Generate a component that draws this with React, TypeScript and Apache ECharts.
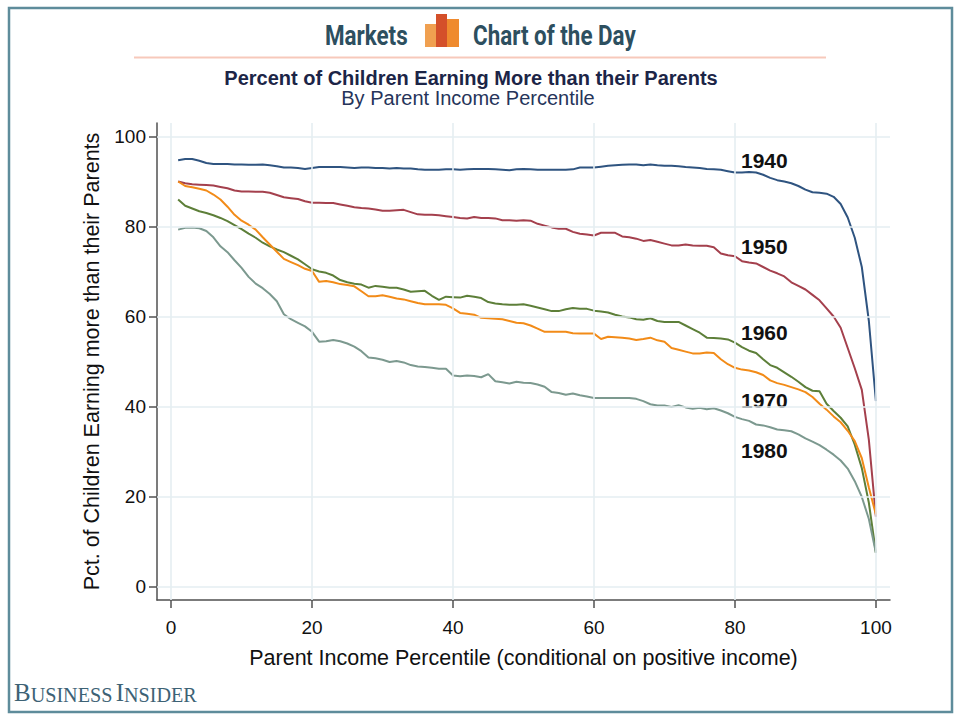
import React, { useEffect, useRef } from "react";
import * as echarts from "echarts";

const percentiles: number[] = Array.from({ length: 100 }, (_, i) => i + 1);

const cohort1940: number[] = [
  94.7, 95.0, 95.0, 94.6, 94.1, 93.9, 93.9, 93.9, 93.8, 93.8,
  93.7, 93.7, 93.8, 93.6, 93.4, 93.1, 93.1, 93.0, 92.8, 93.0,
  93.2, 93.2, 93.2, 93.2, 93.1, 93.0, 93.1, 93.1, 93.0, 93.0,
  92.9, 93.0, 92.9, 92.9, 92.7, 92.6, 92.6, 92.6, 92.7, 92.7,
  92.6, 92.7, 92.8, 92.8, 92.8, 92.7, 92.6, 92.5, 92.7, 92.8,
  92.7, 92.6, 92.6, 92.6, 92.6, 92.6, 92.7, 93.1, 93.1, 93.1,
  93.3, 93.5, 93.6, 93.7, 93.8, 93.8, 93.6, 93.8, 93.6, 93.5,
  93.5, 93.4, 93.2, 93.1, 93.0, 92.8, 92.7, 92.6, 92.3, 92.0,
  92.0, 92.1, 92.0, 91.5, 90.8, 90.3, 90.0, 89.6, 89.0, 88.2,
  87.6, 87.5, 87.3, 86.6, 85.0, 82.0, 77.5, 71.0, 59.0, 41.2,
];

const cohort1950: number[] = [
  90.0, 89.6, 89.4, 89.3, 89.2, 89.1, 88.8, 88.5, 88.0, 87.8,
  87.8, 87.7, 87.7, 87.5, 87.0, 86.5, 86.3, 86.1, 85.6, 85.3,
  85.3, 85.2, 85.2, 84.9, 84.6, 84.3, 84.1, 84.0, 83.8, 83.5,
  83.5, 83.6, 83.7, 83.2, 82.7, 82.6, 82.6, 82.5, 82.3, 82.1,
  81.9, 81.8, 82.1, 81.9, 81.9, 81.8, 81.4, 81.4, 81.3, 81.4,
  81.3, 80.6, 80.2, 79.8, 79.5, 79.5, 78.8, 78.4, 78.2, 78.0,
  78.6, 78.6, 78.6, 77.8, 77.6, 77.3, 76.8, 77.0, 76.6, 76.2,
  75.8, 75.8, 76.0, 75.8, 75.7, 75.7, 75.4, 74.0, 73.6, 73.4,
  72.3, 72.0, 71.8, 71.0, 70.2, 69.6, 68.9, 67.6, 66.8, 66.0,
  64.8, 63.6, 61.8, 60.0, 57.5, 53.0, 48.5, 43.7, 32.6, 15.5,
];

const cohort1960: number[] = [
  86.0, 84.6, 84.0, 83.4, 83.0, 82.5, 81.9, 81.2, 80.3, 79.4,
  78.4, 77.5, 76.4, 75.6, 74.9, 74.3, 73.5, 72.7, 71.6, 70.5,
  70.0, 69.7, 69.1, 68.1, 67.6, 67.3, 67.1, 66.4, 66.8, 66.6,
  66.4, 66.4, 66.0, 65.5, 65.6, 65.7, 64.6, 63.7, 64.4, 64.3,
  64.2, 64.6, 64.4, 64.1, 63.2, 62.9, 62.7, 62.6, 62.6, 62.7,
  62.4, 62.0, 61.6, 61.2, 61.2, 61.6, 61.9, 61.7, 61.7, 61.3,
  61.1, 60.9, 60.4, 60.0, 59.8, 59.4, 59.3, 59.6, 59.0, 58.8,
  58.8, 58.8, 58.0, 57.2, 56.4, 55.3, 55.2, 55.1, 54.9, 54.2,
  53.2, 52.4, 51.9, 50.5, 49.2, 48.6, 47.6, 46.6, 45.5, 44.3,
  43.5, 43.4, 40.6, 39.0, 37.5, 35.6, 31.5, 26.3, 18.6, 7.5,
];

const cohort1970: number[] = [
  90.0, 89.0, 88.7, 88.4, 88.0, 87.1, 86.0, 84.4, 82.6, 81.3,
  80.4, 79.3, 77.6, 76.0, 74.4, 72.8, 72.1, 71.4, 70.6, 70.1,
  67.7, 67.9, 67.6, 67.2, 67.0, 66.7, 65.6, 64.5, 64.5, 64.7,
  64.4, 64.0, 63.8, 63.4, 63.0, 62.7, 62.7, 62.7, 62.6, 61.8,
  60.8, 60.6, 60.4, 59.7, 59.6, 59.5, 59.4, 59.0, 58.6, 58.5,
  58.0, 57.3, 56.6, 56.6, 56.6, 56.6, 56.3, 56.2, 56.2, 56.2,
  55.0, 55.5, 55.4, 55.3, 55.1, 54.8, 55.0, 55.3, 54.7, 54.4,
  53.0, 52.6, 52.2, 51.8, 51.8, 52.0, 51.9, 50.5, 49.4, 48.6,
  48.2, 48.0, 47.6, 47.0, 45.8, 45.2, 44.8, 44.3, 43.8, 43.2,
  42.1, 40.6, 39.3, 37.8, 36.5, 34.6, 32.3, 28.5, 22.0, 16.0,
];

const cohort1980: number[] = [
  79.3, 79.7, 79.8, 79.6, 79.0, 77.6, 75.6, 74.3, 72.5, 70.8,
  68.8, 67.3, 66.3, 65.0, 63.4, 60.5, 59.4, 58.6, 57.8, 56.6,
  54.4, 54.5, 54.8, 54.5, 54.0, 53.3, 52.3, 50.9, 50.7, 50.4,
  49.9, 50.1, 49.8, 49.2, 48.9, 48.8, 48.6, 48.4, 48.4, 46.9,
  46.7, 46.9, 46.8, 46.5, 47.2, 45.6, 45.4, 45.1, 45.5, 45.3,
  45.2, 44.9, 44.4, 43.2, 43.0, 42.6, 42.9, 42.5, 42.2, 41.9,
  41.9, 41.9, 41.9, 41.9, 41.9, 41.7, 41.2, 40.5, 40.2, 40.2,
  39.9, 40.3, 39.8, 39.5, 39.7, 39.4, 39.6, 39.1, 38.5, 37.7,
  37.2, 36.8, 36.0, 35.8, 35.4, 34.9, 34.7, 34.5, 33.8, 32.9,
  32.2, 31.4, 30.4, 29.3, 28.0, 26.2, 23.4, 19.9, 15.0, 7.5,
];

const seriesNames: string[] = ["1940", "1950", "1960", "1970", "1980"];
const seriesColors: string[] = ["#2f5480", "#a4404d", "#5d7f39", "#f28b18", "#7c998f"];
const seriesValues: number[][] = [cohort1940, cohort1950, cohort1960, cohort1970, cohort1980];

const xTicks: number[] = [0, 20, 40, 60, 80, 100];
const yTicks: number[] = [0, 20, 40, 60, 80, 100];

const FONT = "'Liberation Sans', Arial, Helvetica, sans-serif";

export default function App() {
  const ref = useRef<HTMLDivElement>(null);

  useEffect(() => {
    if (!ref.current) return;
    const chart = echarts.init(ref.current, undefined, { renderer: "svg" });

    const lineSeries = seriesNames.map((name, idx) => ({
      name,
      type: "line",
      z: 3,
      showSymbol: false,
      symbol: "none",
      smooth: false,
      lineStyle: { color: seriesColors[idx], width: 2 },
      itemStyle: { color: seriesColors[idx] },
      data: percentiles.map((p, i) => [p, seriesValues[idx][i]]),
      silent: true,
    }));

    const gridSeries = {
      name: "grid",
      type: "line",
      z: 1,
      showSymbol: false,
      symbol: "none",
      data: [[0, 0]],
      lineStyle: { opacity: 0 },
      silent: true,
      markLine: {
        silent: true,
        symbol: ["none", "none"],
        label: { show: false },
        lineStyle: { color: "#e5eef2", width: 1.6, type: "solid" },
        data: [
          ...xTicks.map((v) => ({ xAxis: v })),
          ...yTicks.map((v) => ({ yAxis: v })),
        ],
      },
    };

    const labelYs: number[] = [160, 246, 332, 400, 450];

    const option: any = {
      animation: false,
      backgroundColor: "#ffffff",
      grid: { left: 157, right: 70, top: 123, bottom: 120, containLabel: false },
      xAxis: {
        type: "value",
        min: -2,
        max: 102,
        axisLine: { show: true, onZero: false, lineStyle: { color: "#505050", width: 1.5 } },
        axisTick: { show: true, length: 8, customValues: xTicks, lineStyle: { color: "#505050", width: 1.5 } },
        axisLabel: { customValues: xTicks, fontSize: 19, color: "#111111", margin: 18, fontFamily: FONT },
        splitLine: { show: false },
        name: "Parent Income Percentile (conditional on positive income)",
        nameLocation: "middle",
        nameGap: 47,
        nameTextStyle: { fontSize: 21.5, color: "#111111", fontFamily: FONT },
      },
      yAxis: {
        type: "value",
        min: -3,
        max: 103,
        axisLine: { show: true, onZero: false, lineStyle: { color: "#505050", width: 1.5 } },
        axisTick: { show: true, length: 8, customValues: yTicks, lineStyle: { color: "#505050", width: 1.5 } },
        axisLabel: { customValues: yTicks, fontSize: 19, color: "#111111", margin: 11, fontFamily: FONT },
        splitLine: { show: false },
        name: "Pct. of Children Earning more than their Parents",
        nameLocation: "middle",
        nameGap: 50,
        nameTextStyle: { fontSize: 21.5, color: "#111111", fontFamily: FONT },
      },
      series: [gridSeries, ...lineSeries],
      graphic: [
        {
          type: "rect",
          shape: { x: 9, y: 8, width: 943, height: 704 },
          style: { fill: "none", stroke: "#5e8c9b", lineWidth: 2.5 },
          silent: true,
        },
        {
          type: "line",
          shape: { x1: 134, y1: 57.5, x2: 826, y2: 57.5 },
          style: { stroke: "#f7c9bb", lineWidth: 1.8 },
          silent: true,
        },
        {
          type: "text",
          x: 325,
          y: 35,
          scaleX: 0.8,
          style: {
            text: "Markets",
            fill: "#2d4f5f",
            font: "bold 28px Roboto, 'Liberation Sans', sans-serif",
            textAlign: "left",
            textVerticalAlign: "middle",
          },
        },
        {
          type: "text",
          x: 473,
          y: 35,
          scaleX: 0.8,
          style: {
            text: "Chart of the Day",
            fill: "#2d4f5f",
            font: "bold 28px Roboto, 'Liberation Sans', sans-serif",
            textAlign: "left",
            textVerticalAlign: "middle",
          },
        },
        {
          type: "rect",
          shape: { x: 425, y: 24, width: 12, height: 23 },
          style: { fill: "#f0a050" },
        },
        {
          type: "rect",
          shape: { x: 447, y: 19, width: 12, height: 28 },
          style: { fill: "#ef8a2e" },
        },
        {
          type: "rect",
          shape: { x: 436, y: 14, width: 11, height: 33 },
          style: { fill: "#d4502a" },
        },
        {
          type: "text",
          x: 471,
          y: 78,
          style: {
            text: "Percent of Children Earning More than their Parents",
            fill: "#1c2547",
            font: `bold 20px ${FONT}`,
            textAlign: "center",
            textVerticalAlign: "middle",
          },
        },
        {
          type: "text",
          x: 468,
          y: 98,
          style: {
            text: "By Parent Income Percentile",
            fill: "#26345a",
            font: `20px ${FONT}`,
            textAlign: "center",
            textVerticalAlign: "middle",
          },
        },
        ...seriesNames.map((name, idx) => ({
          type: "text",
          x: 741,
          y: labelYs[idx],
          style: {
            text: name,
            fill: "#111111",
            font: `bold 21px ${FONT}`,
            textAlign: "left",
            textVerticalAlign: "middle",
          },
        })),
        {
          type: "text",
          x: 14,
          y: 705,
          scaleX: 0.96,
          style: {
            text: "{b|B}{s|USINESS} {b|I}{s|NSIDER}",
            textAlign: "left",
            textVerticalAlign: "bottom",
            rich: {
              b: { fontFamily: "'Liberation Serif', 'DejaVu Serif', serif", fontSize: 26, lineHeight: 26, fill: "#3d6275", verticalAlign: "bottom" },
              s: { fontFamily: "'Liberation Serif', 'DejaVu Serif', serif", fontSize: 21, lineHeight: 26, fill: "#3d6275", verticalAlign: "bottom" },
            },
          },
        },
      ],
    };

    chart.setOption(option);
    return () => chart.dispose();
  }, []);

  return (
    <div style={{ position: "fixed", left: 0, top: 0, width: 960, height: 720, background: "#fff" }}>
      <div ref={ref} style={{ width: 960, height: 720 }} />
    </div>
  );
}
